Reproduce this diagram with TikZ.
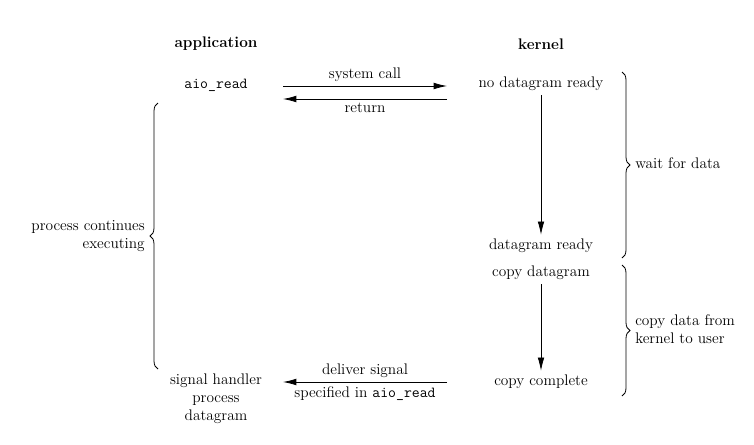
\documentclass[tikz,border=0pt]{standalone}
\usepackage{tikz}
\usetikzlibrary{arrows.meta, decorations.pathreplacing}

\tikzset{
	txt/.style={font=\fontsize{11.5}{13.5}\selectfont, inner sep=3pt},
	head/.style={txt, font=\fontsize{11.5}{13.5}\selectfont\bfseries},
	msg/.style={-{Latex[length=10pt,width=5pt]}, line width=0.6pt},
	bracestyle/.style={decorate, decoration={brace, amplitude=6pt}, line width=0.6pt}
}

\begin{document}
\begin{tikzpicture}[x=0.75pt, y=-0.75pt]
			\useasboundingbox (0,0) rectangle (754,444);
			
			\node[head] (app) at (216,44) {application};
			\node[head] (ker) at (541,44) {kernel};
			
			\node[txt] (aio) at (216,85) {\texttt{aio\_read}};
			\node[txt] (nodg) at (541,84) {no datagram ready};
			\node[txt] (dgr) at (541,246) {datagram ready};
			\node[txt] (cpdg) at (541,273) {copy datagram};
			\node[txt] (cpc) at (541,382) {copy complete};
			\node[txt, align=center] (sig) at (216,399) {signal handler\\process\\datagram};
			
			\coordinate (call1) at (283,86);
			\coordinate (call2) at (447,86);
			\coordinate (ret1) at (447,99);
			\coordinate (ret2) at (283,99);
			\coordinate (dlv1) at (447,382);
			\coordinate (dlv2) at (283,382);
			
			\draw[msg] (call1) -- node[txt, above] {system call} (call2);
			\draw[msg] (ret1) -- node[txt, below] {return} (ret2);
			\draw[msg] (nodg) -- (dgr);
			\draw[msg] (cpdg) -- (cpc);
			\draw[msg] (dlv1) -- node[txt, above] {deliver signal}
				node[txt, below] {specified in \texttt{aio\_read}} (dlv2);
			
			\coordinate (waitT) at (622,72);
			\coordinate (waitB) at (622,258);
			\coordinate (copyT) at (622,265);
			\coordinate (copyB) at (622,396);
			\coordinate (procB) at (158,369);
			\coordinate (procT) at (158,103);
			
			\draw[bracestyle] (waitT) -- (waitB);
			\draw[bracestyle] (copyT) -- (copyB);
			\draw[bracestyle] (procB) -- (procT);
			
			\node[txt, anchor=west] (wait) at (631,163) {wait for data};
			\node[txt, anchor=west, align=left] (copy) at (631,329) {copy data from\\kernel to user};
			\node[txt, anchor=east, align=right] (proc) at (149,236) {process continues\\executing};
			
		\end{tikzpicture}
\end{document}
